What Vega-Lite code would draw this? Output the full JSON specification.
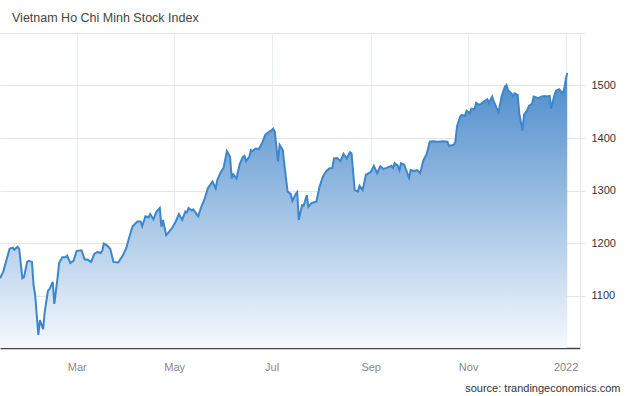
{
  "$schema": "https://vega.github.io/schema/vega-lite/v6.json",
  "width": 580,
  "height": 315,
  "autosize": {"type": "none"},
  "padding": {"left": 0, "top": 33, "right": 50, "bottom": 48},
  "background": "white",
  "title": {
    "text": "Vietnam Ho Chi Minh Stock Index",
    "anchor": "start",
    "frame": "group",
    "dx": 12,
    "dy": 14,
    "offset": 12,
    "baseline": "alphabetic",
    "font": "Liberation Sans",
    "fontSize": 12.5,
    "fontWeight": "normal",
    "color": "#444444"
  },
  "config": {
    "view": {"stroke": null},
    "font": "Liberation Sans"
  },
  "data": {
    "values": [
      {"date": "2021-01-12", "value": 1133},
      {"date": "2021-01-14", "value": 1145},
      {"date": "2021-01-18", "value": 1189},
      {"date": "2021-01-20", "value": 1191},
      {"date": "2021-01-21", "value": 1187},
      {"date": "2021-01-23", "value": 1193},
      {"date": "2021-01-24", "value": 1189},
      {"date": "2021-01-26", "value": 1133},
      {"date": "2021-01-27", "value": 1135},
      {"date": "2021-01-29", "value": 1164},
      {"date": "2021-01-30", "value": 1166},
      {"date": "2021-02-01", "value": 1164},
      {"date": "2021-02-02", "value": 1120},
      {"date": "2021-02-03", "value": 1101},
      {"date": "2021-02-05", "value": 1025},
      {"date": "2021-02-06", "value": 1053},
      {"date": "2021-02-08", "value": 1036},
      {"date": "2021-02-09", "value": 1069},
      {"date": "2021-02-11", "value": 1109},
      {"date": "2021-02-12", "value": 1112},
      {"date": "2021-02-14", "value": 1126},
      {"date": "2021-02-15", "value": 1084},
      {"date": "2021-02-17", "value": 1133},
      {"date": "2021-02-18", "value": 1162},
      {"date": "2021-02-20", "value": 1173},
      {"date": "2021-02-22", "value": 1173},
      {"date": "2021-02-23", "value": 1176},
      {"date": "2021-02-25", "value": 1162},
      {"date": "2021-02-27", "value": 1166},
      {"date": "2021-03-01", "value": 1185},
      {"date": "2021-03-04", "value": 1186},
      {"date": "2021-03-06", "value": 1169},
      {"date": "2021-03-08", "value": 1168},
      {"date": "2021-03-10", "value": 1164},
      {"date": "2021-03-12", "value": 1179},
      {"date": "2021-03-14", "value": 1183},
      {"date": "2021-03-16", "value": 1181},
      {"date": "2021-03-17", "value": 1185},
      {"date": "2021-03-18", "value": 1199},
      {"date": "2021-03-20", "value": 1195},
      {"date": "2021-03-22", "value": 1189},
      {"date": "2021-03-24", "value": 1164},
      {"date": "2021-03-27", "value": 1163},
      {"date": "2021-03-30", "value": 1177},
      {"date": "2021-04-01", "value": 1190},
      {"date": "2021-04-03", "value": 1212},
      {"date": "2021-04-05", "value": 1232},
      {"date": "2021-04-08", "value": 1241},
      {"date": "2021-04-10", "value": 1241},
      {"date": "2021-04-11", "value": 1232},
      {"date": "2021-04-13", "value": 1251},
      {"date": "2021-04-15", "value": 1249},
      {"date": "2021-04-16", "value": 1255},
      {"date": "2021-04-18", "value": 1245},
      {"date": "2021-04-20", "value": 1260},
      {"date": "2021-04-22", "value": 1267},
      {"date": "2021-04-23", "value": 1231},
      {"date": "2021-04-24", "value": 1244},
      {"date": "2021-04-26", "value": 1215},
      {"date": "2021-04-27", "value": 1218},
      {"date": "2021-04-30", "value": 1230},
      {"date": "2021-05-02", "value": 1241},
      {"date": "2021-05-04", "value": 1255},
      {"date": "2021-05-06", "value": 1244},
      {"date": "2021-05-08", "value": 1260},
      {"date": "2021-05-09", "value": 1258},
      {"date": "2021-05-10", "value": 1267},
      {"date": "2021-05-12", "value": 1262},
      {"date": "2021-05-13", "value": 1264},
      {"date": "2021-05-16", "value": 1251},
      {"date": "2021-05-18", "value": 1269},
      {"date": "2021-05-20", "value": 1283},
      {"date": "2021-05-22", "value": 1304},
      {"date": "2021-05-25", "value": 1317},
      {"date": "2021-05-27", "value": 1304},
      {"date": "2021-05-28", "value": 1320},
      {"date": "2021-05-30", "value": 1334},
      {"date": "2021-06-01", "value": 1344},
      {"date": "2021-06-03", "value": 1375},
      {"date": "2021-06-05", "value": 1364},
      {"date": "2021-06-06", "value": 1323},
      {"date": "2021-06-07", "value": 1331},
      {"date": "2021-06-09", "value": 1323},
      {"date": "2021-06-11", "value": 1350},
      {"date": "2021-06-13", "value": 1364},
      {"date": "2021-06-14", "value": 1366},
      {"date": "2021-06-15", "value": 1356},
      {"date": "2021-06-17", "value": 1364},
      {"date": "2021-06-18", "value": 1377},
      {"date": "2021-06-19", "value": 1375},
      {"date": "2021-06-21", "value": 1380},
      {"date": "2021-06-23", "value": 1379},
      {"date": "2021-06-25", "value": 1390},
      {"date": "2021-06-27", "value": 1406},
      {"date": "2021-06-29", "value": 1411},
      {"date": "2021-07-01", "value": 1415},
      {"date": "2021-07-02", "value": 1418},
      {"date": "2021-07-03", "value": 1412},
      {"date": "2021-07-05", "value": 1355},
      {"date": "2021-07-06", "value": 1387},
      {"date": "2021-07-08", "value": 1377},
      {"date": "2021-07-09", "value": 1349},
      {"date": "2021-07-11", "value": 1298},
      {"date": "2021-07-13", "value": 1293},
      {"date": "2021-07-14", "value": 1280},
      {"date": "2021-07-16", "value": 1293},
      {"date": "2021-07-17", "value": 1297},
      {"date": "2021-07-18", "value": 1244},
      {"date": "2021-07-20", "value": 1272},
      {"date": "2021-07-21", "value": 1271},
      {"date": "2021-07-23", "value": 1291},
      {"date": "2021-07-24", "value": 1269},
      {"date": "2021-07-26", "value": 1276},
      {"date": "2021-07-29", "value": 1279},
      {"date": "2021-07-31", "value": 1307},
      {"date": "2021-08-02", "value": 1326},
      {"date": "2021-08-04", "value": 1336},
      {"date": "2021-08-06", "value": 1342},
      {"date": "2021-08-08", "value": 1343},
      {"date": "2021-08-09", "value": 1361},
      {"date": "2021-08-11", "value": 1362},
      {"date": "2021-08-13", "value": 1356},
      {"date": "2021-08-15", "value": 1370},
      {"date": "2021-08-17", "value": 1361},
      {"date": "2021-08-19", "value": 1373},
      {"date": "2021-08-20", "value": 1371},
      {"date": "2021-08-22", "value": 1301},
      {"date": "2021-08-24", "value": 1298},
      {"date": "2021-08-25", "value": 1309},
      {"date": "2021-08-27", "value": 1301},
      {"date": "2021-08-29", "value": 1330},
      {"date": "2021-09-01", "value": 1335},
      {"date": "2021-09-03", "value": 1347},
      {"date": "2021-09-05", "value": 1333},
      {"date": "2021-09-07", "value": 1346},
      {"date": "2021-09-09", "value": 1341},
      {"date": "2021-09-11", "value": 1343},
      {"date": "2021-09-14", "value": 1347},
      {"date": "2021-09-15", "value": 1343},
      {"date": "2021-09-16", "value": 1352},
      {"date": "2021-09-18", "value": 1347},
      {"date": "2021-09-19", "value": 1339},
      {"date": "2021-09-20", "value": 1352},
      {"date": "2021-09-22", "value": 1349},
      {"date": "2021-09-25", "value": 1324},
      {"date": "2021-09-26", "value": 1339},
      {"date": "2021-09-28", "value": 1337},
      {"date": "2021-09-30", "value": 1339},
      {"date": "2021-10-02", "value": 1333},
      {"date": "2021-10-04", "value": 1358},
      {"date": "2021-10-06", "value": 1369},
      {"date": "2021-10-08", "value": 1393},
      {"date": "2021-10-10", "value": 1394},
      {"date": "2021-10-13", "value": 1393},
      {"date": "2021-10-16", "value": 1394},
      {"date": "2021-10-19", "value": 1393},
      {"date": "2021-10-20", "value": 1385},
      {"date": "2021-10-23", "value": 1387},
      {"date": "2021-10-24", "value": 1393},
      {"date": "2021-10-25", "value": 1422},
      {"date": "2021-10-27", "value": 1441},
      {"date": "2021-10-28", "value": 1444},
      {"date": "2021-10-30", "value": 1442},
      {"date": "2021-10-31", "value": 1452},
      {"date": "2021-11-02", "value": 1447},
      {"date": "2021-11-03", "value": 1456},
      {"date": "2021-11-05", "value": 1455},
      {"date": "2021-11-06", "value": 1467},
      {"date": "2021-11-08", "value": 1463},
      {"date": "2021-11-09", "value": 1465},
      {"date": "2021-11-11", "value": 1470},
      {"date": "2021-11-13", "value": 1474},
      {"date": "2021-11-14", "value": 1467},
      {"date": "2021-11-16", "value": 1479},
      {"date": "2021-11-17", "value": 1470},
      {"date": "2021-11-19", "value": 1456},
      {"date": "2021-11-20", "value": 1449},
      {"date": "2021-11-22", "value": 1480},
      {"date": "2021-11-24", "value": 1498},
      {"date": "2021-11-25", "value": 1501},
      {"date": "2021-11-26", "value": 1491},
      {"date": "2021-11-28", "value": 1485},
      {"date": "2021-11-29", "value": 1480},
      {"date": "2021-11-30", "value": 1485},
      {"date": "2021-12-02", "value": 1482},
      {"date": "2021-12-03", "value": 1447},
      {"date": "2021-12-05", "value": 1414},
      {"date": "2021-12-06", "value": 1444},
      {"date": "2021-12-08", "value": 1453},
      {"date": "2021-12-09", "value": 1461},
      {"date": "2021-12-11", "value": 1465},
      {"date": "2021-12-12", "value": 1479},
      {"date": "2021-12-15", "value": 1476},
      {"date": "2021-12-17", "value": 1479},
      {"date": "2021-12-19", "value": 1480},
      {"date": "2021-12-20", "value": 1479},
      {"date": "2021-12-22", "value": 1480},
      {"date": "2021-12-23", "value": 1456},
      {"date": "2021-12-25", "value": 1482},
      {"date": "2021-12-26", "value": 1490},
      {"date": "2021-12-28", "value": 1493},
      {"date": "2021-12-30", "value": 1485},
      {"date": "2021-12-31", "value": 1491},
      {"date": "2022-01-01", "value": 1510},
      {"date": "2022-01-02", "value": 1524}
    ]
  },
  "mark": {
    "type": "area",
    "clip": true,
    "opacity": 1,
    "line": {"color": "#3c86cc", "strokeWidth": 2},
    "color": {
      "gradient": "linear",
      "x1": 0, "y1": 0, "x2": 0, "y2": 1,
      "stops": [
        {"offset": 0, "color": "#4b8bcb"},
        {"offset": 1, "color": "#f6f9fd"}
      ]
    }
  },
  "encoding": {
    "x": {
      "field": "date",
      "type": "temporal",
      "scale": {"type": "utc", "domain": ["2021-01-12", "2022-01-10"]},
      "axis": {
        "tickCount": {"interval": "month", "step": 2},
        "labelExpr": "utcFormat(datum.value, '%m') == '01' ? utcFormat(datum.value, '%Y') : utcFormat(datum.value, '%b')",
        "ticks": false,
        "grid": true,
        "gridColor": "#e9eef2",
        "gridWidth": 1,
        "domainColor": "#444444",
        "domainWidth": 1.5,
        "labelColor": "#888888",
        "labelFontSize": 11,
        "labelFont": "Liberation Sans",
        "labelPadding": 13,
        "labelFlush": false,
        "title": "source: trandingeconomics.com",
        "titleAnchor": "end",
        "titleAlign": "right",
        "titleX": 620,
        "titleY": 43,
        "titleBaseline": "alphabetic",
        "titleFont": "Liberation Sans",
        "titleFontSize": 11,
        "titleFontWeight": "normal",
        "titleColor": "#333333"
      }
    },
    "y": {
      "field": "value",
      "type": "quantitative",
      "scale": {"domain": [1000, 1600], "zero": false, "nice": false},
      "axis": {
        "orient": "right",
        "values": [1100, 1200, 1300, 1400, 1500, 1600],
        "labelExpr": "datum.value == 1600 ? '' : datum.label",
        "format": "d",
        "grid": true,
        "gridColor": "#e6e6e6",
        "domainColor": "#e6e6e6",
        "tickColor": "#e6e6e6",
        "tickSize": 5,
        "labelPadding": 6,
        "labelColor": "#333333",
        "labelFontSize": 11,
        "labelFont": "Liberation Sans",
        "title": null
      }
    },
    "y2": {"datum": 1000}
  }
}
